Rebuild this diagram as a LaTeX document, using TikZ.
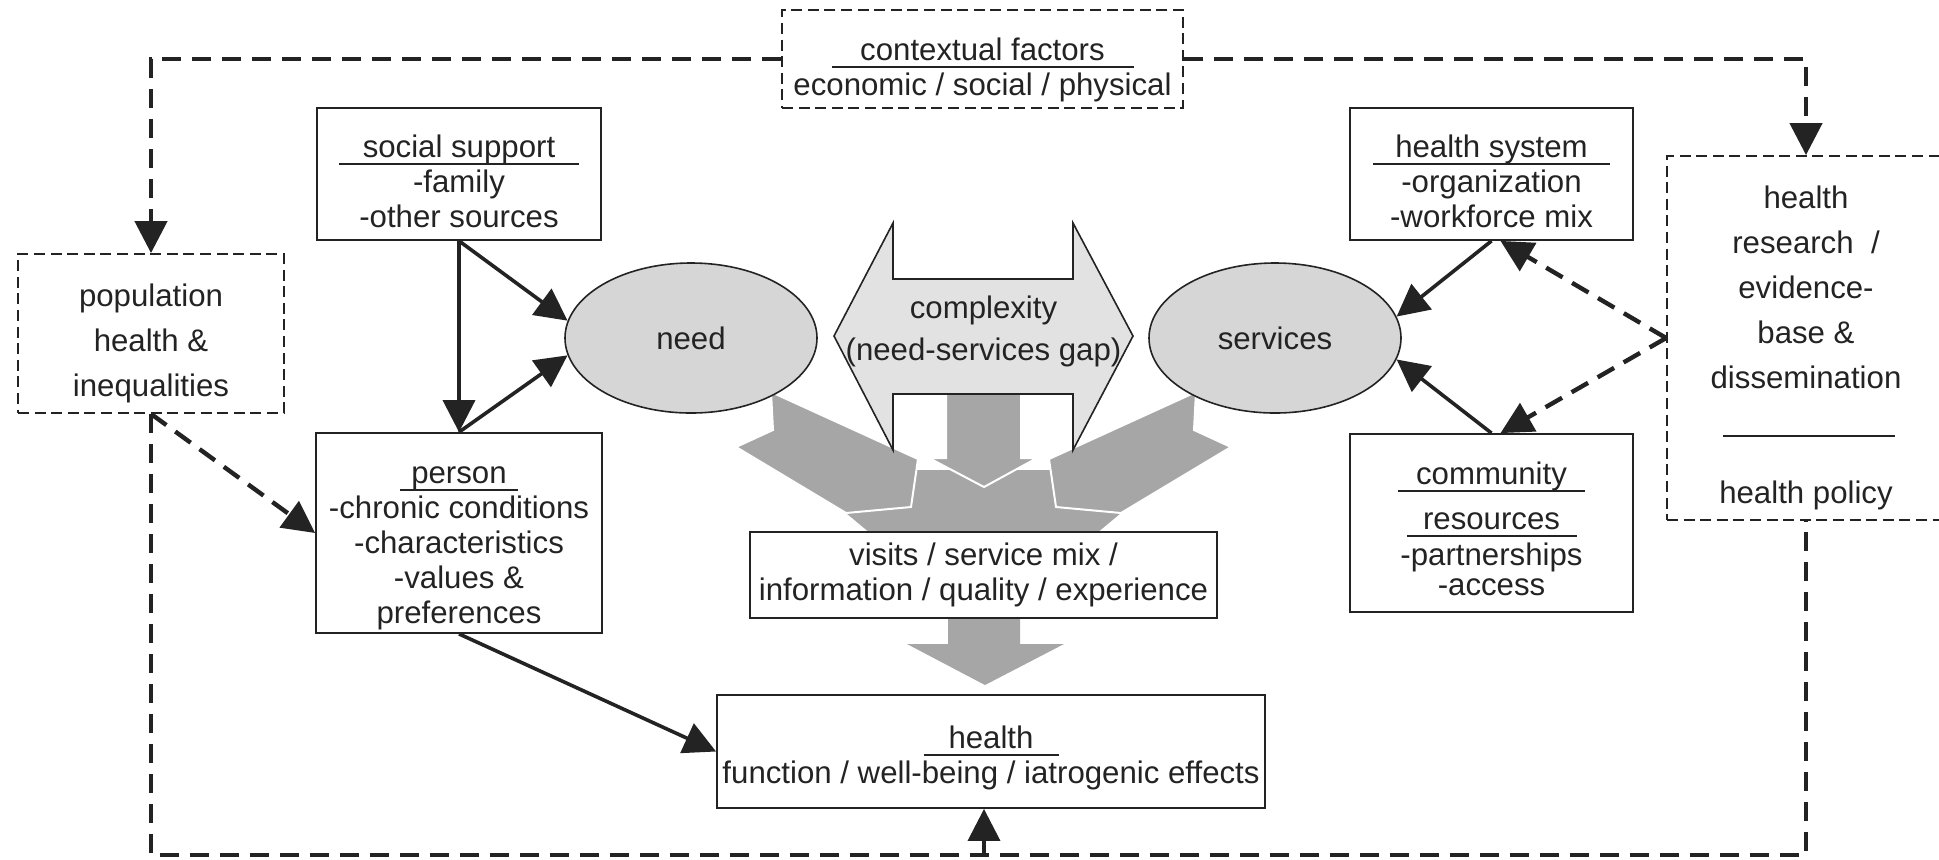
\documentclass[tikz,border=0pt]{standalone}
\usepackage{fontspec}
\setmainfont{Liberation Sans}
\usetikzlibrary{arrows.meta,calc,shapes.geometric}

\definecolor{ink}{RGB}{35,35,35}
\definecolor{bubble}{RGB}{214,214,214}
\definecolor{gapfill}{RGB}{226,226,226}
\definecolor{flow}{RGB}{166,166,166}

% heading with a rule drawn just under it
\newcommand\ulhead[2]{\makebox[#1]{#2}\llap{\raisebox{-3.8pt}{\rule{#1}{0.9pt}}}}
% extra room above the first line of a box
\newcommand\toproom[1]{\rule{0pt}{#1}}

\tikzset{
  txt/.style={font=\fontsize{15.6}{17.5}\selectfont, text=ink, align=center, inner sep=0pt},
  solidbox/.style={txt, rectangle, draw=ink, line width=0.9pt, fill=white},
  dashbox/.style={txt, rectangle, draw=ink, line width=0.9pt, dash pattern=on 5.5pt off 2.8pt, fill=white},
  blob/.style={txt, ellipse, draw=ink, line width=0.8pt, fill=bubble,
               minimum width=126pt, minimum height=75pt},
  tip/.style={-{Triangle[length=16pt,width=16pt]}},
  link/.style={draw=ink, line width=1.8pt, tip},
  dlink/.style={draw=ink, line width=2.2pt, dash pattern=on 9.5pt off 5.5pt, tip},
  loopline/.style={draw=ink, line width=2.2pt, dash pattern=on 9.5pt off 5.5pt},
  flowshape/.style={fill=flow, draw=white, line width=1pt, line join=miter},
}

\begin{document}
\begin{tikzpicture}[x=0.5pt,y=-0.5pt]
\useasboundingbox (0,0) rectangle (1939,859);

% grey flows converging on the visits box
\fill[flow] (846,513) -- (905,470) -- (1062,470) -- (1121,513) -- (1079,548) -- (888,548) -- cycle;
\filldraw[flowshape] (771,392) -- (918,459) -- (911,507) -- (846,513) -- (736,447) -- (773,430) -- cycle;
\filldraw[flowshape] (1196,392) -- (1049,459) -- (1056,507) -- (1121,513) -- (1231,447) -- (1194,430) -- cycle;
\filldraw[flowshape] (946,385) -- (1021,385) -- (1021,458) -- (1037,458) -- (984,487) -- (929,458) -- (946,458) -- cycle;
% grey flow from visits to health
\fill[flow] (948,600) -- (1020,600) -- (1020,644) -- (1064,644) -- (985,685) -- (907,644) -- (948,644) -- cycle;

% double arrow: complexity
\filldraw[fill=gapfill, draw=ink, line width=0.8pt]
  (834,336) -- (893,223) -- (893,279) -- (1073,279) -- (1073,223) -- (1133,336)
  -- (1073,450) -- (1073,394) -- (893,394) -- (893,450) -- cycle;
\node[txt, font=\fontsize{15.6}{21}\selectfont] (cx) at (983.5,331) {complexity\\(need-services gap)};

% nodes
\node[dashbox, minimum width=200.5pt, minimum height=49pt] (ctx) at (982.5,59)
  {\toproom{22.3pt}\ulhead{151pt}{contextual factors}\\economic / social / physical};
\node[dashbox, minimum width=133pt, minimum height=79.5pt, font=\fontsize{15.6}{22.5}\selectfont] (pop) at (151,333.5)
  {\toproom{21.3pt}population\\health \&\\inequalities};
\node[solidbox, minimum width=142pt, minimum height=66pt] (ss) at (459,174)
  {\toproom{18.7pt}\ulhead{120pt}{social support}\\-family\\-other sources};
\node[solidbox, minimum width=143pt, minimum height=100pt] (person) at (459,533)
  {\toproom{23.7pt}\ulhead{59pt}{person}\\-chronic conditions\\-characteristics\\-values \&\\preferences};
\node[blob] (need) at (691,338) {need};
\node[blob] (services) at (1275,338) {services};
\node[solidbox, minimum width=141.5pt, minimum height=66pt] (hs) at (1491.5,174)
  {\toproom{18.7pt}\ulhead{118.5pt}{health system}\\-organization\\-workforce mix};
\node[solidbox, minimum width=141.5pt, minimum height=89pt, font=\fontsize{15.6}{16.5}\selectfont] (cr) at (1491.5,523)
  {\toproom{17.3pt}\ulhead{93.5pt}{community}\\[6pt]\ulhead{85pt}{resources}\\[1.5pt]-partnerships\\[-1.5pt]-access};
\node[dashbox, minimum width=139pt, minimum height=182pt, font=\fontsize{15.6}{22.5}\selectfont] (res) at (1806,338)
  {\toproom{21.3pt}health\\research~~/\\evidence-\\base \&\\dissemination\\[35pt]health policy};
\draw[ink, line width=0.8pt] (1723,436) -- (1895,436);
\node[solidbox, minimum width=233.5pt, minimum height=43pt, font=\fontsize{15.6}{17.5}\selectfont] (visits) at (983.5,575)
  {visits / service mix /\\information / quality / experience};
\node[solidbox, minimum width=274pt, minimum height=56.5pt] (hb) at (991,751.5)
  {\toproom{17.3pt}\ulhead{67.5pt}{health}\\function / well-being / iatrogenic effects};

% contextual factors feed both sides
\draw[dlink] (ctx.west) -| (pop.north);
\draw[dlink] (ctx.east) -| (res.north);

% outer loop
\coordinate (loopbase) at (984,855);
\draw[loopline] (pop.south) |- (loopbase) -| (res.south);
\draw[link] (loopbase) -- (loopbase |- hb.south);

% population health to person
\draw[dlink] (pop.south) -- (person.west);

% social support, person, need
\draw[link] (ss.south) -- (person.north);
\draw[link] (ss.south) -- (need.172);
\draw[link] (person.north) -- (need.188);
\draw[link] (person.south) -- (hb.west);

% health system, community, services
\draw[link] (hs.south) -- (services.10);
\draw[link] (cr.north) -- (services.-10);
\draw[dlink] (res.west) -- ($(hs.south)+(9,0)$);
\draw[dlink] (res.west) -- ($(cr.north)+(9,0)$);
\end{tikzpicture}
\end{document}
